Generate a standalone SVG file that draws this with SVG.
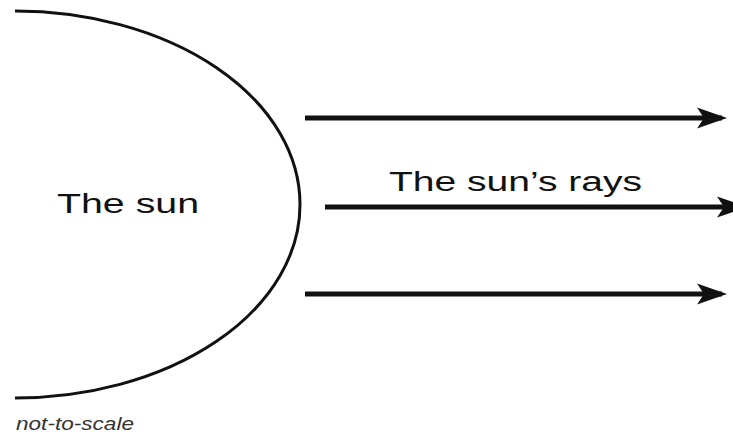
<svg xmlns="http://www.w3.org/2000/svg" width="733" height="433" viewBox="0 0 733 433">
<style>
.lbl{font-family:"Liberation Sans",Arial,sans-serif;fill:#111;}
.ray{stroke:#111;stroke-width:5;fill:none;}
</style>
<defs>
<marker id="ah" markerUnits="userSpaceOnUse" markerWidth="32" markerHeight="24" viewBox="-32 -12 32 24" refX="-5" refY="0" orient="auto">
<path d="M0,0 L-30,-10.5 L-23,0 L-30,10.5 Z" fill="#111"/>
</marker>
</defs>
<rect width="733" height="433" fill="#fff"/>
<g id="sun">
<path d="M15,11 A285,193.5 0 0 1 300,204.5 A285,193.5 0 0 1 15,398" fill="none" stroke="#111" stroke-width="3"/>
<text class="lbl" x="57" y="213" font-size="27" textLength="142" lengthAdjust="spacingAndGlyphs">The sun</text>
</g>
<g id="rays-label">
<text class="lbl" x="389" y="191" font-size="27" textLength="253" lengthAdjust="spacingAndGlyphs">The sun’s rays</text>
</g>
<g id="connectors">
<line class="ray" x1="305" y1="118" x2="722" y2="118" marker-end="url(#ah)"/>
<line class="ray" x1="325" y1="207" x2="742" y2="207" marker-end="url(#ah)"/>
<line class="ray" x1="305" y1="294" x2="722" y2="294" marker-end="url(#ah)"/>
</g>
<g id="note">
<text x="16" y="430" font-family="'Liberation Sans',Arial,sans-serif" font-style="italic" font-size="19" fill="#333" textLength="118" lengthAdjust="spacingAndGlyphs">not-to-scale</text>
</g>
</svg>
